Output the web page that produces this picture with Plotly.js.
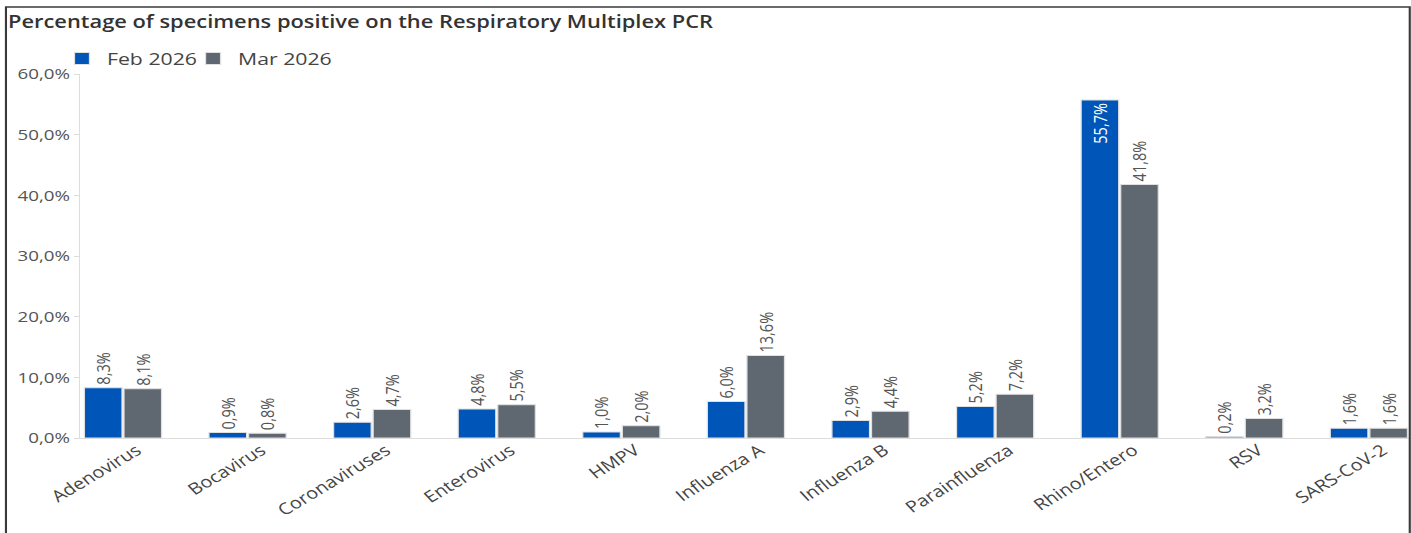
<!DOCTYPE html>
<html><head><meta charset="utf-8">
<script src="https://cdn.plot.ly/plotly-3.0.1.min.js"></script>
<style>
body{margin:0;background:#fff;overflow:hidden}
#wrap{width:1411px;height:533px;overflow:hidden;position:relative}
#chart{position:absolute;left:0;top:0;transform-origin:0 0}
</style>
</head><body><div id="wrap"><div id="chart"></div></div>
<script>
const categories = ["Adenovirus","Bocavirus","Coronaviruses","Enterovirus","HMPV","Influenza A","Influenza B","Parainfluenza","Rhino/Entero","RSV","SARS-CoV-2"];
const feb2026 = [8.3,0.9,2.6,4.8,1.0,6.0,2.9,5.2,55.7,0.2,1.6];
const mar2026 = [8.1,0.8,4.7,5.5,2.0,13.6,4.4,7.2,41.8,3.2,1.6];
const yTicks = [0,10,20,30,40,50,60];

// the reference is horizontally stretched: render narrower and scale in x
const S = 1.25;
const FW = 1411, FH = 533;
const W = FW / S, H = FH;
const L = 80, R = 1408, T = 74, B = 438;        // target pixel positions
const pw = R - L, ph = B - T;
function px(x){return (x - L)/pw;}
function py(y){return (B - y)/ph;}

const common = {
  type:'bar', x:categories, texttemplate:'%{y:.1f}%', textangle:-90,
  cliponaxis:false, constraintext:'none', showlegend:true,
  outsidetextfont:{size:14.5,color:'#555',family:'Open Sans'},
  insidetextfont:{size:14.5,color:'#fff',family:'Open Sans'},
  insidetextanchor:'end', hoverinfo:'x+y'
};
const traces = [
  Object.assign({}, common, {name:'Feb 2026', y:feb2026, legend:'legend',
    textposition: feb2026.map(v => v > 30 ? 'inside' : 'outside'),
    marker:{color:'#0055b8', line:{color:'#e0e0e0', width:1}}}),
  Object.assign({}, common, {name:'Mar 2026', y:mar2026, legend:'legend2',
    textposition: mar2026.map(v => 'outside'),
    marker:{color:'#5f6770', line:{color:'#e0e0e0', width:1}}})
];

const legendBase = {orientation:'h', xanchor:'left', y:py(59), yanchor:'middle',
  font:{size:17, color:'#444'}, bgcolor:'rgba(0,0,0,0)', visible:true};

const layout = {
  width:W, height:H, showlegend:true,
  margin:{l:L/S, r:(FW-R)/S, t:T, b:FH-B, pad:0},
  separators:',.',
  font:{family:'Open Sans', color:'#555'},
  paper_bgcolor:'#fff', plot_bgcolor:'#fff',
  bargap:0.365, bargroupgap:0.05,
  title:{text:'Percentage of specimens positive on the Respiratory Multiplex PCR',
    x:8/FW, xanchor:'left', xref:'container', y:1-22/FH, yanchor:'middle', yref:'container',
    font:{size:17.5, color:'#333', family:'Open Sans', weight:600}},
  legend:Object.assign({}, legendBase, {x:px(57)}),
  legend2:Object.assign({}, legendBase, {x:px(188)}),
  xaxis:{type:'category', range:[-0.345, 10.32], tickangle:-36.5, showline:true, linecolor:'#ddd', linewidth:1,
    ticks:'', tickfont:{size:16, color:'#444'}, ticklabelshift:11, ticklabelstandoff:-4,
    showgrid:false, zeroline:false, fixedrange:true},
  yaxis:{range:[0,60], tickvals:yTicks, ticktext:yTicks.map(v => v.toFixed(1).replace('.',',') + '%'),
    ticks:'outside', ticklen:5/S, tickcolor:'#ddd', showline:true, linecolor:'#ddd', linewidth:1,
    showgrid:false, zeroline:false, tickfont:{size:15, color:'#555'}, fixedrange:true},
  shapes:[{type:'rect', xref:'paper', yref:'paper', x0:px(6), x1:px(1409), y0:py(560), y1:py(7),
    line:{color:'#3a3a3a', width:1.7}, fillcolor:'rgba(0,0,0,0)', layer:'above'}]
};
Plotly.newPlot('chart', traces, layout, {displayModeBar:false, staticPlot:true}).then(() => {
  document.getElementById('chart').style.transform = 'scaleX(' + S + ')';
});
</script></body></html>
